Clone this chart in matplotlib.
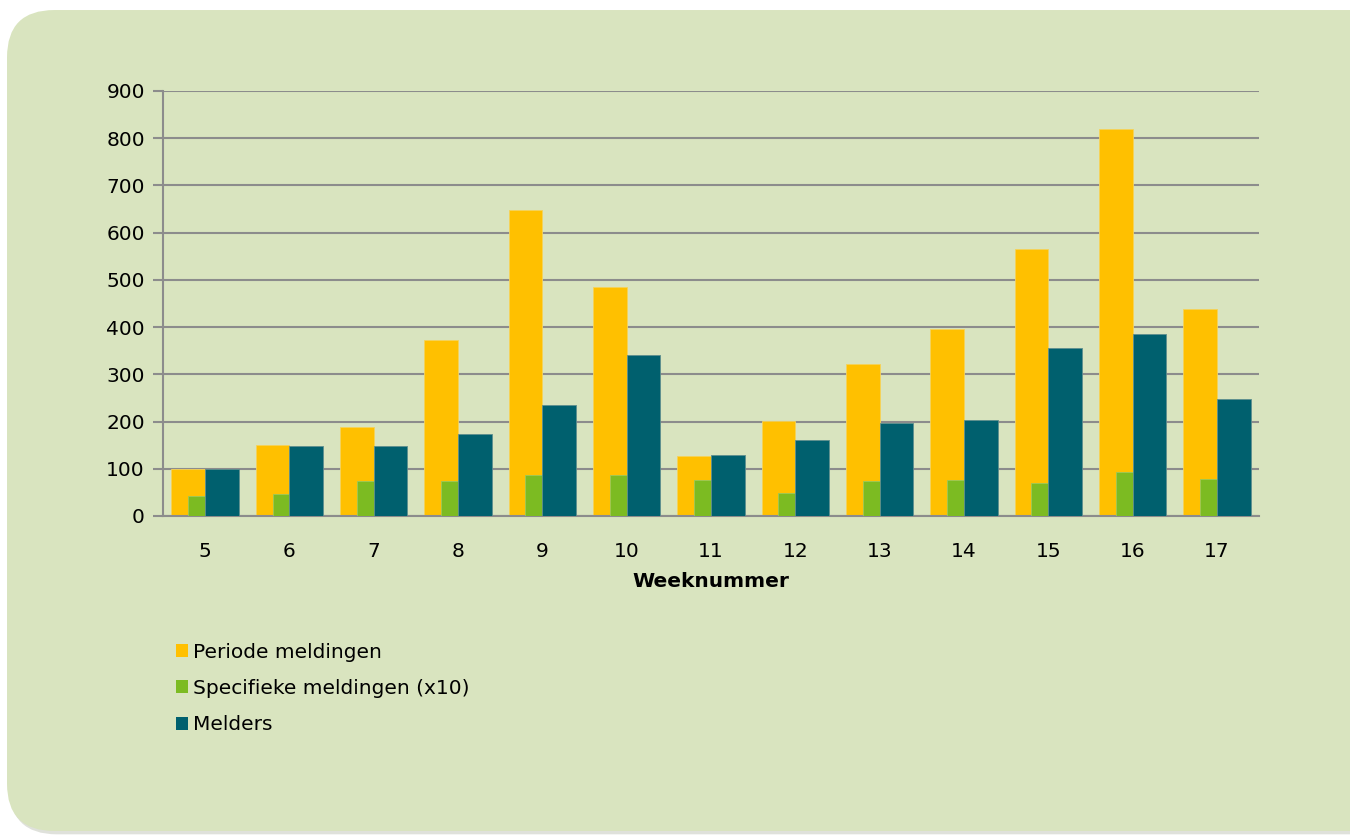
import numpy as np
import matplotlib.pyplot as plt
from matplotlib.patches import FancyBboxPatch, Patch

weeks = ['5', '6', '7', '8', '9', '10', '11', '12', '13', '14', '15', '16', '17']
periode = [100, 150, 188, 373, 648, 484, 126, 202, 322, 395, 566, 820, 439]
specifiek = [42, 47, 74, 75, 87, 87, 77, 49, 75, 76, 69, 93, 78]
melders = [99, 148, 148, 173, 236, 341, 129, 161, 197, 204, 356, 386, 248]
labels = ['Periode meldingen', 'Specifieke meldingen (x10)', 'Melders']
colors = ['#FFC000', '#7CBB22', '#00606E']

plt.rcParams['font.family'] = ['DejaVu Sans']
fs = 14.5

fig = plt.figure(figsize=(13.5, 8.36), dpi=100)
fig.patch.set_facecolor('white')

# rounded panel with a soft shadow
shadow = FancyBboxPatch((0.007, 0.002), 1.05, 0.983, boxstyle='round,pad=0,rounding_size=0.035',
                        transform=fig.transFigure, facecolor='#c0c4b8', edgecolor='none',
                        alpha=0.5, mutation_aspect=1350 / 836, zorder=-2)
panel = FancyBboxPatch((0.0052, 0.006), 1.05, 0.982, boxstyle='round,pad=0,rounding_size=0.035',
                       transform=fig.transFigure, facecolor='#D9E4BF', edgecolor='none',
                       mutation_aspect=1350 / 836, zorder=-1)
fig.patches.extend([shadow, panel])

ax = fig.add_axes([0.1207, 0.3828, 0.8119, 0.5084])
ax.set_facecolor('none')
ax.set_zorder(1)

x = np.arange(len(weeks))
ax.bar(x - 0.2, periode, 0.4, color=colors[0], edgecolor='#F5D35A', linewidth=0.6, zorder=2)
ax.bar(x - 0.1, specifiek, 0.2, color=colors[1], edgecolor='#9CC85A', linewidth=0.6, zorder=3)
ax.bar(x + 0.2, melders, 0.4, color=colors[2], edgecolor='#5E8E8E', linewidth=0.6, zorder=3)

ax.set_xlim(-0.5, len(weeks) - 0.5)
ax.set_ylim(0, 900)
ax.set_yticks(range(0, 901, 100))
ax.set_xticks(x)
ax.set_xticklabels(weeks)
ax.yaxis.grid(True, color='#8C8C8C', linewidth=1.5, zorder=1)
ax.set_axisbelow(True)
for s in ['top', 'right']:
    ax.spines[s].set_visible(False)
for s in ['left', 'bottom']:
    ax.spines[s].set_color('#8C8C8C')
    ax.spines[s].set_linewidth(1.5)
ax.tick_params(axis='y', length=7, width=1.5, color='#8C8C8C', labelsize=fs, pad=6)
ax.tick_params(axis='x', length=0, labelsize=fs, pad=19)
ax.set_xlabel('Weeknummer', fontsize=fs, fontweight='bold', labelpad=8)

handles = [Patch(facecolor=c, edgecolor='none') for c in colors]
leg = fig.legend(handles, labels, loc='upper left', bbox_to_anchor=(0.1245, 0.241),
                 frameon=False, fontsize=fs, handlelength=0.6, handleheight=0.6,
                 handletextpad=0.25, labelspacing=0.86, borderaxespad=0)
leg.set_zorder(2)

fig.savefig('out.png', dpi=100)
